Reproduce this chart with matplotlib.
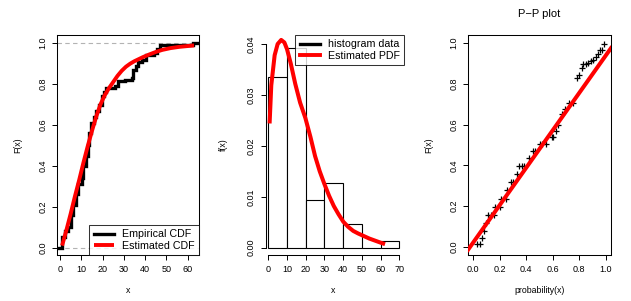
import matplotlib
matplotlib.use("Agg")
import matplotlib.pyplot as plt
import numpy as np

plt.rcParams['font.family'] = ['Liberation Sans', 'DejaVu Sans']

# ---------------- data ----------------
# Empirical CDF (jump locations and levels)
ecdf_x = [0.9, 2.3, 3.9, 5.2, 6.3, 7.5, 8.6, 10.2, 11.0, 12.2, 13.0, 13.8, 14.6,
          16.0, 16.9, 18.2, 19.6, 20.7, 21.6, 25.9, 27.4, 30.5, 33.7, 34.5, 35.7,
          36.8, 38.4, 40.3, 44.2, 45.4, 47.0, 62.7]
ecdf_y = [0.054, 0.08, 0.10, 0.16, 0.21, 0.26, 0.31, 0.34, 0.40, 0.45, 0.50, 0.56,
          0.61, 0.64, 0.67, 0.70, 0.74, 0.76, 0.78, 0.79, 0.815, 0.82, 0.83, 0.87,
          0.89, 0.91, 0.92, 0.94, 0.95, 0.97, 0.99, 1.0]

# Estimated CDF
cdf_x = [1, 3, 5, 7, 9, 11, 13, 15, 17, 19, 21, 23, 25, 27, 29, 31, 33, 35, 37,
         39, 42, 45, 48, 52, 56, 60, 63]
cdf_y = [0.01, 0.085, 0.165, 0.25, 0.33, 0.415, 0.495, 0.57, 0.64, 0.70, 0.745,
         0.78, 0.81, 0.84, 0.865, 0.885, 0.90, 0.912, 0.922, 0.932, 0.945, 0.957,
         0.967, 0.976, 0.982, 0.986, 0.989]

# Histogram (bin left edges, density heights)
hist_left = [0, 10, 20, 30, 40, 50, 60]
hist_density = [0.03346, 0.03916, 0.0093, 0.01264, 0.00465, 0.0, 0.00125]
hist_width = 10

# Estimated PDF
pdf_x = [0.7, 1.6, 3.4, 5.0, 6.9, 8.6, 10.0, 12.0, 14.4, 17.0, 19.8, 22.5, 25.0,
         27.5, 30.0, 32.5, 35.0, 37.5, 40.1, 42.7, 45.4, 48.0, 51.0, 54.0, 57.0,
         60.0, 62.4]
pdf_y = [0.0244, 0.0319, 0.0378, 0.0400, 0.0408, 0.0403, 0.0390, 0.0362, 0.0322,
         0.0285, 0.0255, 0.0218, 0.0180, 0.0150, 0.0125, 0.0102, 0.0082, 0.0066,
         0.0051, 0.0041, 0.0033, 0.0028, 0.0023, 0.0018, 0.0014, 0.0010, 0.0007]

# P-P plot points
pp_x = [0.025, 0.05, 0.065, 0.08, 0.093, 0.113, 0.13, 0.156, 0.164, 0.20, 0.21,
        0.247, 0.257, 0.282, 0.297, 0.327, 0.343, 0.365, 0.385, 0.418, 0.453,
        0.468, 0.504, 0.519, 0.549, 0.592, 0.605, 0.622, 0.642, 0.667, 0.693,
        0.725, 0.756, 0.781, 0.801, 0.819, 0.831, 0.849, 0.869, 0.889, 0.907,
        0.924, 0.945, 0.957, 0.975, 0.99]
pp_y = [0.015, 0.015, 0.045, 0.08, 0.118, 0.154, 0.154, 0.154, 0.197, 0.197,
        0.236, 0.236, 0.277, 0.316, 0.316, 0.357, 0.397, 0.397, 0.397, 0.438,
        0.47, 0.47, 0.503, 0.503, 0.503, 0.538, 0.538, 0.569, 0.598, 0.654,
        0.675, 0.705, 0.705, 0.831, 0.843, 0.88, 0.90, 0.90, 0.905, 0.911,
        0.916, 0.93, 0.949, 0.965, 0.965, 0.995]
pp_line_intercept = 0.022
pp_line_slope = 0.917

# ---------------- styles ----------------
RED = '#FF0000'
TICK_FS = 6.5
LAB_FS = 6.3
LEG_FS = 7.7

W, H = 631, 301
fig = plt.figure(figsize=(W / 100, H / 100), dpi=100)

def axes_px(left, right, top, bottom):
    return fig.add_axes([left / W, (H - bottom) / H, (right - left) / W, (bottom - top) / H])

def style_ticks(ax):
    ax.tick_params(axis='both', direction='out', length=3.6, width=0.7,
                   labelsize=TICK_FS, pad=3.4, color='black')
    for lab in ax.get_yticklabels():
        lab.set_rotation(90)
        lab.set_va('center')

# ---- Panel 1: CDFs ----
ax1 = axes_px(57, 199, 35, 255)
xl1 = (-1.4, 65.3)
ax1.set_xlim(*xl1)
ax1.set_ylim(-0.036, 1.04)
ax1.axhline(0, color='#B3B3B3', lw=0.8, ls=(0, (4, 3)), zorder=1)
ax1.axhline(1, color='#B3B3B3', lw=0.8, ls=(0, (4, 3)), zorder=1)
sx = [xl1[0]] + ecdf_x + [xl1[1]]
sy = [0.0] + ecdf_y + [ecdf_y[-1]]
ax1.step(sx, sy, where='post', color='black', lw=2.4, label='Empirical CDF', zorder=2,
         solid_joinstyle='miter')
ax1.plot(cdf_x, cdf_y, color=RED, lw=2.8, label='Estimated CDF', zorder=3,
         solid_capstyle='butt')
ax1.set_xticks(range(0, 61, 10))
ax1.set_yticks(np.arange(0, 1.01, 0.2))
ax1.set_yticklabels(['0.0', '0.2', '0.4', '0.6', '0.8', '1.0'])
style_ticks(ax1)
for s in ax1.spines.values():
    s.set_linewidth(0.75)
ax1.set_xlabel('x', fontsize=LAB_FS)
ax1.set_ylabel('F(x)', fontsize=LAB_FS)
ax1.xaxis.set_label_coords(0.5, -0.14)
ax1.yaxis.set_label_coords(-0.245, 0.5)
leg1 = ax1.legend(loc='lower right', fontsize=LEG_FS, frameon=True, fancybox=False,
                  edgecolor='black', borderaxespad=0, handlelength=1.9,
                  handletextpad=0.75, labelspacing=0.12, borderpad=0.4)
leg1.get_frame().set_linewidth(0.75)

# ---- Panel 2: histogram + PDF ----
ax2 = axes_px(262.3, 404.3, 35, 255)
ax2.set_xlim(-3.2, 72.7)
ax2.set_ylim(-0.00143, 0.04177)
ax2.bar(hist_left, hist_density, width=hist_width, align='edge', facecolor='white',
        edgecolor='black', linewidth=0.8, label='histogram data', zorder=2)
ax2.plot(pdf_x, pdf_y, color=RED, lw=2.9, label='Estimated PDF', zorder=3,
         solid_capstyle='butt')
ax2.spines['top'].set_visible(False)
ax2.spines['right'].set_visible(False)
ax2.spines['left'].set_position(('data', -1.4))
ax2.spines['left'].set_bounds(0, 0.04)
ax2.spines['bottom'].set_bounds(0, 70)
for s in ax2.spines.values():
    s.set_linewidth(0.75)
ax2.set_xticks(range(0, 71, 10))
ax2.set_yticks([0, 0.01, 0.02, 0.03, 0.04])
ax2.set_yticklabels(['0.00', '0.01', '0.02', '0.03', '0.04'])
style_ticks(ax2)
ax2.set_xlabel('x', fontsize=LAB_FS)
ax2.set_ylabel('f(x)', fontsize=LAB_FS)
ax2.xaxis.set_label_coords(0.5, -0.14)
ax2.yaxis.set_label_coords(-0.245, 0.5)
from matplotlib.lines import Line2D
handles = [Line2D([], [], color='black', lw=2.4), Line2D([], [], color=RED, lw=2.8)]
leg2 = ax2.legend(handles, ['histogram data', 'Estimated PDF'], loc='upper right',
                  fontsize=LEG_FS, frameon=True, fancybox=False, edgecolor='black',
                  borderaxespad=0, handlelength=1.9, handletextpad=0.75,
                  labelspacing=0.12, borderpad=0.4)
leg2.get_frame().set_linewidth(0.75)

# ---- Panel 3: P-P plot ----
ax3 = axes_px(468, 611, 35, 255)
ax3.set_xlim(-0.04, 1.04)
ax3.set_ylim(-0.04, 1.04)
ax3.plot(pp_x, pp_y, '+', color='black', ms=4.5, mew=0.9, zorder=2)
ax3.axline((0, pp_line_intercept), slope=pp_line_slope, color=RED, lw=2.9, zorder=3)
ax3.set_xticks(np.arange(0, 1.01, 0.2))
ax3.set_xticklabels(['0.0', '0.2', '0.4', '0.6', '0.8', '1.0'])
ax3.set_yticks(np.arange(0, 1.01, 0.2))
ax3.set_yticklabels(['0.0', '0.2', '0.4', '0.6', '0.8', '1.0'])
style_ticks(ax3)
for s in ax3.spines.values():
    s.set_linewidth(0.75)
ax3.set_xlabel('probability(x)', fontsize=LAB_FS)
ax3.set_ylabel('F(x)', fontsize=LAB_FS)
ax3.xaxis.set_label_coords(0.5, -0.14)
ax3.yaxis.set_label_coords(-0.245, 0.5)
ax3.set_title('P\u2212P plot', fontsize=8, pad=13)

fig.savefig('out.png', dpi=100)
